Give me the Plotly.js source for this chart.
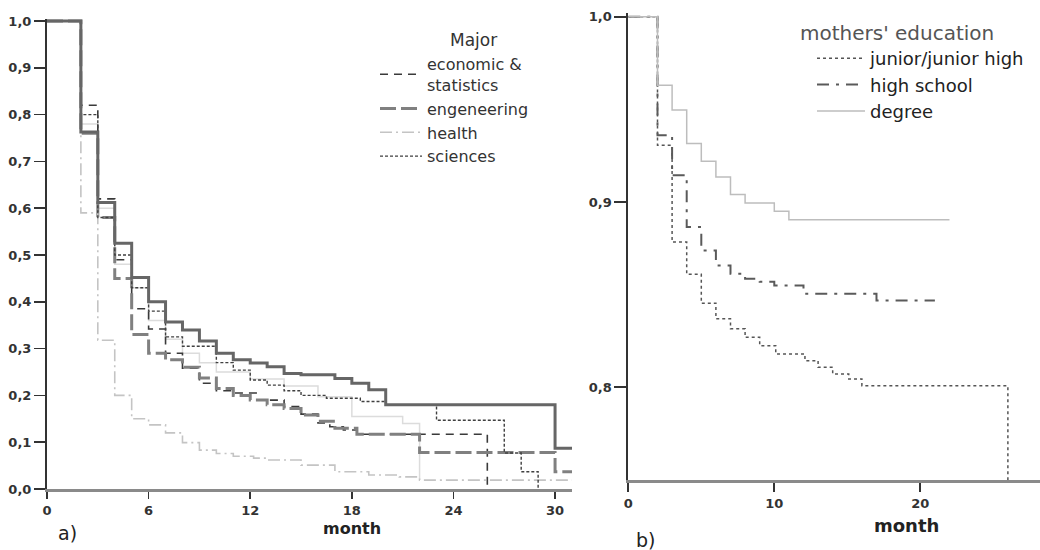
<!DOCTYPE html>
<html><head><meta charset="utf-8">
<script src="https://cdn.plot.ly/plotly-3.0.1.min.js"></script>
<style>html,body{margin:0;padding:0;background:#fff}#chart{width:1040px;height:550px}</style>
</head><body><div id="chart"></div><script>
// ---- panel a) : Major ----
const majorLegendTitle = "Major";
const allMonths = [0,2,3,4,5,6,7,8,9,10,11,12,13,14,15,17,18,19,20,30,31];
const allSurv   = [1,0.763,0.612,0.525,0.452,0.400,0.357,0.340,0.316,0.290,0.276,0.269,0.261,0.247,0.244,0.236,0.226,0.212,0.180,0.087,0.087];
const econMonths = [0,2,3,4,5,6,7,8,9,10,11,12.4,14,15,16,16.7,17.5,18.3,26];
const econSurv   = [1,0.82,0.62,0.49,0.385,0.342,0.29,0.258,0.226,0.21,0.205,0.19,0.176,0.16,0.141,0.133,0.126,0.117,0];
const engMonths = [0,2,3,4,5,6,7,8,9,10,11,12,13,14,15,16,17,18.3,22,30,31];
const engSurv   = [1,0.76,0.58,0.45,0.33,0.29,0.276,0.26,0.237,0.215,0.20,0.19,0.18,0.172,0.158,0.145,0.13,0.117,0.078,0.037,0.037];
const healthMonths = [0,2,3,4,5,6,7,8,9,10,11,12.2,13,15,17,19,20.8,22,31];
const healthSurv   = [1,0.59,0.318,0.20,0.15,0.137,0.12,0.099,0.083,0.076,0.07,0.066,0.062,0.051,0.037,0.03,0.026,0.019,0.019];
const sciMonths = [0,2,3,4,5,6,7,8,10,11,12,13,14,15,16.5,18.5,20,23,27,28,29];
const sciSurv   = [1,0.80,0.58,0.50,0.43,0.38,0.325,0.305,0.27,0.254,0.233,0.222,0.21,0.20,0.194,0.187,0.18,0.147,0.077,0.037,0];
const faintMonths = [0,2,3,4,5,6,7,8,9,10,12,14,16,18,21,22];
const faintSurv   = [1,0.78,0.60,0.48,0.43,0.36,0.32,0.29,0.27,0.25,0.235,0.22,0.197,0.155,0.14,0.02];
const majorNames = ["economic &<br>statistics","engeneering","health","sciences"];
const majorTicks = [0,6,12,18,24,30];

// ---- panel b) : mothers' education ----
const eduLegendTitle = "mothers' education";
const juniorMonths = [0,2,3,4,5,6,7,8,9,10.1,12.1,13,14,15.1,16,26];
const juniorSurv   = [1,0.9306,0.8784,0.861,0.8454,0.837,0.8316,0.827,0.8225,0.818,0.8144,0.8108,0.8072,0.8045,0.8009,0.75];
const highMonths = [0,2,3,4,5,6,7,8,9,10,12,17,21];
const highSurv   = [1,0.936,0.9144,0.8865,0.8739,0.8658,0.8613,0.8586,0.857,0.855,0.8505,0.8469,0.8469];
const degreeMonths = [0,2,3,4,5,6,7,8,10,11,22];
const degreeSurv   = [1,0.963,0.9496,0.9316,0.922,0.9135,0.904,0.8995,0.895,0.8905,0.8905];
const eduNames = ["junior/junior high","high school","degree"];
const eduTicks = [0,10,20];
const eduYTicks = [0.8,0.9,1.0];

const W=1040,H=550;
const px = v => v/W, py = v => 1 - v/H;
const FONT = "DejaVu Sans, Verdana, sans-serif";

function step(x,y,o){ return Object.assign({x:x,y:y,type:'scatter',mode:'lines',line:{shape:'hv'},hoverinfo:'skip'},o); }

const traces = [
  step(faintMonths,faintSurv,{xaxis:'x',yaxis:'y',showlegend:false,line:{shape:'hv',color:'#dcdcdc',width:1.5}}),
  step(econMonths,econSurv,{name:majorNames[0],legend:'legend',xaxis:'x',yaxis:'y',line:{shape:'hv',color:'#3a3a3a',width:1.6,dash:'8px,6px'}}),
  step(engMonths,engSurv,{name:majorNames[1],legend:'legend',xaxis:'x',yaxis:'y',line:{shape:'hv',color:'#808080',width:3,dash:'16px,5px'}}),
  step(healthMonths,healthSurv,{name:majorNames[2],legend:'legend',xaxis:'x',yaxis:'y',line:{shape:'hv',color:'#c4c4c4',width:1.6,dash:'12px,4px,2px,4px'}}),
  step(sciMonths,sciSurv,{name:majorNames[3],legend:'legend',xaxis:'x',yaxis:'y',line:{shape:'hv',color:'#404040',width:1.4,dash:'3px,2px'}}),
  step(allMonths,allSurv,{xaxis:'x',yaxis:'y',showlegend:false,line:{shape:'hv',color:'#666',width:3}}),
  step(juniorMonths,juniorSurv,{name:eduNames[0],legend:'legend2',xaxis:'x2',yaxis:'y2',line:{shape:'hv',color:'#555',width:1.5,dash:'3px,3px'}}),
  step(highMonths,highSurv,{name:eduNames[1],legend:'legend2',xaxis:'x2',yaxis:'y2',line:{shape:'hv',color:'#5a5a5a',width:2,dash:'12px,7px,3px,7px'}}),
  step(degreeMonths,degreeSurv,{name:eduNames[2],legend:'legend2',xaxis:'x2',yaxis:'y2',line:{shape:'hv',color:'#bdbdbd',width:1.5}})
];

const tickFont = {family:FONT,size:13,weight:'bold',color:'#333'};
const ann = (t,x,y,o) => Object.assign({text:t,x:px(x),y:py(y),xref:'paper',yref:'paper',showarrow:false,xanchor:'center',yanchor:'middle'},o);

const layout = {
  width:W,height:H,margin:{l:0,r:0,t:0,b:0},
  paper_bgcolor:'#fff',plot_bgcolor:'rgba(0,0,0,0)',
  separators:',.',
  showlegend:true,
  xaxis:{domain:[px(47),px(572)],range:[0,31],tickvals:majorTicks,ticks:'outside',ticklen:7,tickwidth:1.5,tickcolor:'#333',
         showline:true,linecolor:'#8a8a8a',linewidth:3,showgrid:false,zeroline:false,tickfont:tickFont,anchor:'y',fixedrange:true},
  yaxis:{domain:[py(489),py(18.66)],range:[0,1.005],tickvals:[0,0.1,0.2,0.3,0.4,0.5,0.6,0.7,0.8,0.9,1.0],tickformat:'.1f',
         ticks:'outside',ticklen:11,tickwidth:1.5,tickcolor:'#333',showline:true,linecolor:'#333',linewidth:2,
         showgrid:false,zeroline:false,tickfont:tickFont,anchor:'x',fixedrange:true},
  xaxis2:{domain:[px(628.3),1],range:[0,28.2],tickvals:eduTicks,ticks:'outside',ticklen:9,tickwidth:2,tickcolor:'#333',
         showline:true,linecolor:'#8a8a8a',linewidth:3,showgrid:false,zeroline:false,tickfont:tickFont,anchor:'y2',fixedrange:true},
  yaxis2:{domain:[py(480),py(13)],range:[0.75,1.002],tickvals:eduYTicks,tickformat:'.1f',ticks:'outside',ticklen:12,tickwidth:2,
         tickcolor:'#333',showline:true,linecolor:'#333',linewidth:2,showgrid:false,zeroline:false,tickfont:tickFont,anchor:'x2',fixedrange:true},
  legend:{x:px(375),y:py(47),xanchor:'left',yanchor:'top',bgcolor:'rgba(0,0,0,0)',font:{family:FONT,size:16,color:'#333'},itemwidth:42,traceorder:'normal'},
  legend2:{x:px(812),y:py(40),xanchor:'left',yanchor:'top',bgcolor:'rgba(0,0,0,0)',font:{family:FONT,size:18,color:'#222'},itemwidth:48,traceorder:'normal'},
  annotations:[
    ann(majorLegendTitle,473,40,{font:{family:FONT,size:17,color:'#333'}}),
    ann(eduLegendTitle,798,33,{xanchor:'left',font:{family:FONT,size:20,color:'#555'}}),
    ann('month',352,528,{font:{family:FONT,size:16,weight:'bold',color:'#222'}}),
    ann('month',906,525,{font:{family:FONT,size:18,weight:'bold',color:'#222'}}),
    ann('a)',67,533,{font:{family:FONT,size:19,color:'#222'}}),
    ann('b)',645,540,{font:{family:FONT,size:19,color:'#222'}})
  ]
};
Plotly.newPlot('chart',traces,layout,{staticPlot:true,displayModeBar:false});
</script></body></html>
